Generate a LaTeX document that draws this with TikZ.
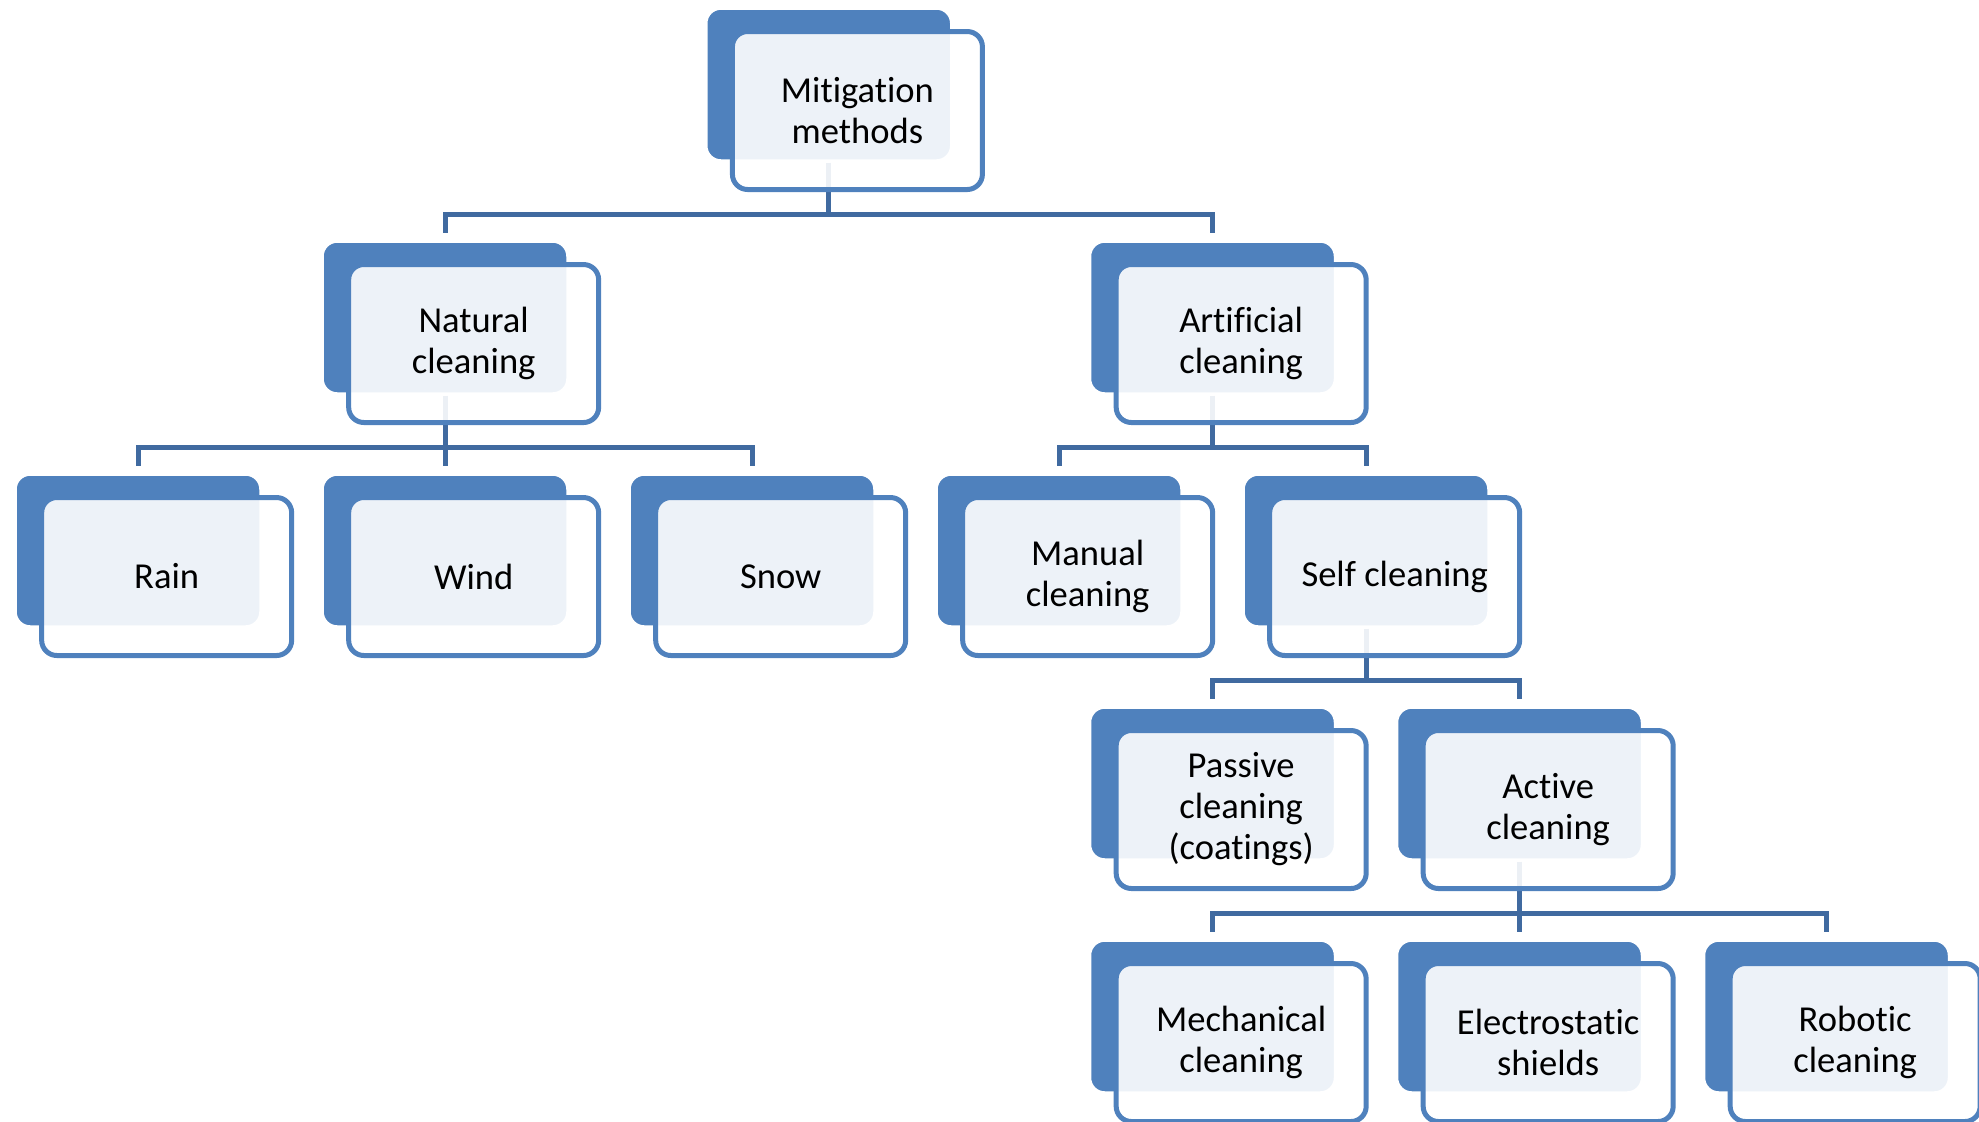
\documentclass[tikz,border=0pt]{standalone}
\usepackage{fontspec}
\setmainfont{Carlito}[Ligatures=NoCommon]
\usepackage{tikz}
\usetikzlibrary{positioning}
\definecolor{accblue}{RGB}{79,129,189}
\definecolor{linkblue}{RGB}{64,106,160}

\begin{document}
\begin{tikzpicture}[x=0.015cm, y=-0.015cm]
          \tikzstyle{bnode} = [rectangle, rounded corners=6.5pt, fill=accblue, draw=white, line width=1.5pt, minimum width=3.69cm, minimum height=2.295cm, inner sep=0pt]
          \tikzstyle{fnode} = [rectangle, rounded corners=6.5pt, draw=accblue, line width=0.075cm, fill=white, fill opacity=0.9, text opacity=1, minimum width=3.75cm, minimum height=2.37cm, inner sep=0pt, align=center, xshift=4.3mm, yshift=-3.9mm, font=\fontsize{15.6}{17.5}\selectfont]
          \tikzstyle{link} = [draw=linkblue, line width=0.075cm, shorten >=0.1cm]

          \useasboundingbox (0,0) rectangle (1979,1121);

          % back boxes
          \node[bnode] (mit) at (828.75,84.5) {};
          \node[bnode] (nat) at (445,317.5) {};
          \node[bnode] (art) at (1212.5,317.5) {};
          \node[bnode] (rain) at (138,550.5) {};
          \node[bnode] (wind) at (445,550.5) {};
          \node[bnode] (snow) at (752,550.5) {};
          \node[bnode] (man) at (1059,550.5) {};
          \node[bnode] (self) at (1366,550.5) {};
          \node[bnode] (pass) at (1212.5,783.5) {};
          \node[bnode] (act) at (1519.5,783.5) {};
          \node[bnode] (mech) at (1212.5,1016.5) {};
          \node[bnode] (elec) at (1519.5,1016.5) {};
          \node[bnode] (robo) at (1826.5,1016.5) {};

          % connectors
          \draw[link] (mit.south) -- ++(0,52) -| (nat.north);
          \draw[link] (mit.south) -- ++(0,52) -| (art.north);
          \draw[link] (nat.south) -- ++(0,52) -| (rain.north);
          \draw[link] (nat.south) -- ++(0,52) -| (wind.north);
          \draw[link] (nat.south) -- ++(0,52) -| (snow.north);
          \draw[link] (art.south) -- ++(0,52) -| (man.north);
          \draw[link] (art.south) -- ++(0,52) -| (self.north);
          \draw[link] (self.south) -- ++(0,52) -| (pass.north);
          \draw[link] (self.south) -- ++(0,52) -| (act.north);
          \draw[link] (act.south) -- ++(0,52) -| (mech.north);
          \draw[link] (act.south) -- ++(0,52) -| (elec.north);
          \draw[link] (act.south) -- ++(0,52) -| (robo.north);

          % front boxes
          \node[fnode] (mitF) at (mit) {Mitigation\\methods};
          \node[fnode] (natF) at (nat) {Natural\\cleaning};
          \node[fnode] (artF) at (art) {Artificial\\cleaning};
          \node[fnode] (rainF) at (rain) {Rain};
          \node[fnode] (windF) at (wind) {Wind};
          \node[fnode] (snowF) at (snow) {Snow};
          \node[fnode] (manF) at (man) {Manual\\cleaning};
          \node[fnode] (selfF) at (self) {Self cleaning};
          \node[fnode] (passF) at (pass) {Passive\\cleaning\\(coatings)};
          \node[fnode] (actF) at (act) {Active\\cleaning};
          \node[fnode] (mechF) at (mech) {Mechanical\\cleaning};
          \node[fnode] (elecF) at (elec) {Electrostatic\\shields};
          \node[fnode] (roboF) at (robo) {Robotic\\cleaning};
        \end{tikzpicture}
\end{document}
